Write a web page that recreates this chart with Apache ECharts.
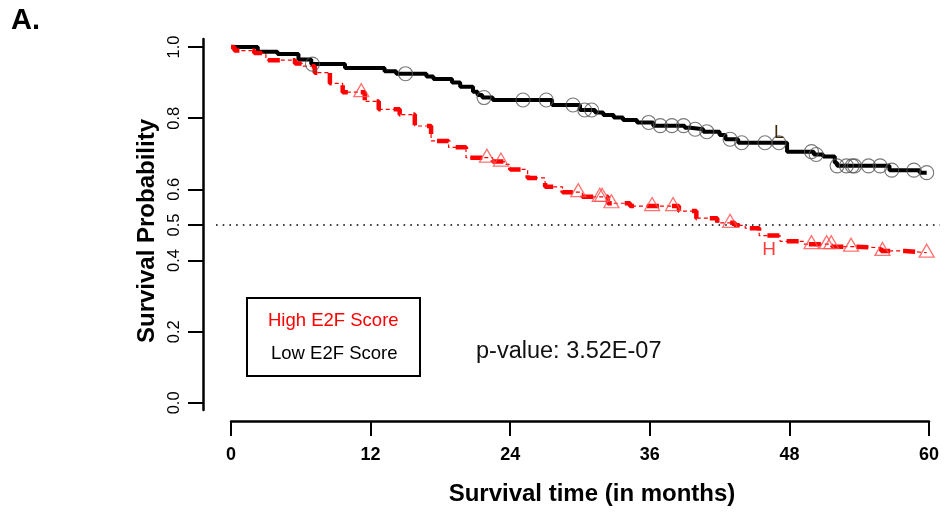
<!DOCTYPE html>
<html>
<head>
<meta charset="utf-8">
<script src="https://cdn.jsdelivr.net/npm/echarts@6/dist/echarts.min.js"></script>
<style>
  html, body { margin: 0; padding: 0; background: #fff; }
  #chart { width: 948px; height: 512px; }
</style>
</head>
<body>
<div id="chart"></div>
<script>
// Kaplan–Meier estimates: month of each drop and the survival after it
const lowTimes = [0, 2.3, 4.0, 5.8, 6.9, 9.8, 13.2, 14.2, 16.8, 17.4, 19.0, 19.7, 20.8, 21.2, 21.6, 22.5, 27.6, 30.0, 31.3, 32.0, 32.9, 33.7, 34.9, 36.3, 39.0, 39.5, 40.6, 42.0, 42.5, 43.6, 47.8, 50.1, 50.9, 51.9, 52.1, 56.6, 59.2];
const lowSurv  = [1.0, 0.987, 0.980, 0.965, 0.952, 0.941, 0.932, 0.925, 0.917, 0.910, 0.900, 0.888, 0.874, 0.865, 0.858, 0.851, 0.837, 0.823, 0.816, 0.809, 0.802, 0.795, 0.788, 0.779, 0.773, 0.769, 0.762, 0.753, 0.741, 0.731, 0.706, 0.698, 0.692, 0.675, 0.666, 0.654, 0.647];
const lowCensored = [7.0, 15.0, 21.75, 25.1, 27.1, 29.4, 30.4, 31.0, 35.9, 36.9, 37.9, 38.9, 39.9, 40.9, 42.9, 43.9, 45.9, 47.1, 49.9, 50.3, 52.1, 52.9, 53.4, 53.6, 54.8, 55.8, 56.8, 58.7, 59.8];

const highTimes = [0, 0.3, 2.0, 3.0, 5.5, 6.2, 7.2, 8.5, 9.6, 11.5, 12.7, 14.5, 15.8, 17.2, 18.7, 20.2, 22.5, 23.5, 24.0, 25.5, 27.0, 28.5, 30.2, 32.4, 34.3, 38.5, 40.0, 41.8, 43.3, 44.2, 45.4, 47.2, 49.2, 51.7, 53.6, 55.9, 57.9];
const highSurv  = [1.0, 0.990, 0.983, 0.963, 0.954, 0.946, 0.928, 0.898, 0.873, 0.847, 0.825, 0.810, 0.778, 0.736, 0.718, 0.689, 0.678, 0.670, 0.656, 0.632, 0.607, 0.592, 0.579, 0.561, 0.553, 0.539, 0.519, 0.506, 0.499, 0.491, 0.470, 0.454, 0.446, 0.439, 0.436, 0.427, 0.422];
const highCensored = [11.2, 22.0, 23.2, 29.85, 31.7, 31.9, 32.7, 36.2, 38.0, 42.9, 49.9, 51.2, 51.6, 53.3, 56.0, 59.8];

const xTicks = [0, 12, 24, 36, 48, 60];
const yTicks = [0.0, 0.2, 0.4, 0.5, 0.6, 0.8, 1.0];
const medianLine = 0.5;
const pValueText = 'p-value: 3.52E-07';

const FONT = '"Liberation Sans", Arial, Helvetica, sans-serif';

// survival value in effect at month t
function survivalAt(times, surv, t) {
  let v = surv[0];
  for (let i = 0; i < times.length; i++) {
    if (times[i] <= t) v = surv[i];
  }
  return v;
}

// step points, extended to the last follow-up time
function stepPoints(times, surv, censored) {
  const pts = times.map((t, i) => [t, surv[i]]);
  const end = Math.max(times[times.length - 1], ...censored);
  pts.push([end, surv[surv.length - 1]]);
  return pts;
}

function censorPoints(times, surv, censored) {
  return censored.map(t => [t, survivalAt(times, surv, t)]);
}

const lowLine = stepPoints(lowTimes, lowSurv, lowCensored);
const highLine = stepPoints(highTimes, highSurv, highCensored);
const lowMarks = censorPoints(lowTimes, lowSurv, lowCensored);
const highMarks = censorPoints(highTimes, highSurv, highCensored);

const chart = echarts.init(document.getElementById('chart'), null, { renderer: 'canvas' });

const yMin = -0.02, yMax = 1.0225;

chart.setOption({
  animation: false,
  backgroundColor: '#fff',
  grid: [
    { left: 231, right: 19, top: 39, bottom: 102 },
    { left: 216, right: 8, top: 39, bottom: 102 }
  ],
  xAxis: [
    {
      gridIndex: 0,
      type: 'value',
      min: 0, max: 60, interval: 12,
      offset: 11,
      axisLine: { show: true, onZero: false, lineStyle: { color: '#000', width: 2.5 } },
      axisTick: { show: true, length: 15, lineStyle: { color: '#000', width: 2 } },
      axisLabel: {
        margin: 25, color: '#000', fontFamily: FONT, fontSize: 18, fontWeight: 'bold',
        customValues: xTicks, formatter: v => String(v)
      },
      splitLine: { show: false }
    },
    { gridIndex: 1, type: 'value', min: 0, max: 1, show: false }
  ],
  yAxis: [
    {
      gridIndex: 0,
      type: 'value',
      min: yMin, max: yMax,
      offset: 28,
      axisLine: { show: true, onZero: false, lineStyle: { color: '#000', width: 2.5 } },
      axisTick: { show: true, length: 15, customValues: yTicks, lineStyle: { color: '#000', width: 2 } },
      axisLabel: {
        rotate: 90, margin: 20, color: '#000', fontFamily: FONT, fontSize: 16.5,
        customValues: yTicks, formatter: v => v.toFixed(1)
      },
      splitLine: { show: false }
    },
    { gridIndex: 1, type: 'value', min: yMin, max: yMax, show: false }
  ],
  series: [
    {
      name: 'Low E2F Score',
      type: 'line',
      step: 'end',
      data: lowLine,
      symbol: 'none',
      lineStyle: { color: '#000', width: 4 },
      z: 3,
      markPoint: {
        symbol: 'circle', symbolSize: 0, silent: true,
        label: { show: true, position: 'inside', formatter: 'L', color: '#3d2a08', fontFamily: FONT, fontSize: 18 },
        data: [{ coord: [47.1, 0.758] }]
      }
    },
    {
      name: 'Low censored',
      type: 'scatter',
      data: lowMarks,
      symbol: 'circle',
      symbolSize: 14,
      itemStyle: { color: 'rgba(0,0,0,0)', borderColor: '#555', borderWidth: 1.1 },
      z: 4
    },
    {
      name: 'High E2F Score',
      type: 'line',
      step: 'end',
      data: highLine,
      symbol: 'none',
      lineStyle: { color: '#ff0000', width: 1.2, type: [4, 3] },
      z: 3
    },
    {
      name: 'High E2F Score (bold dashes)',
      type: 'line',
      step: 'end',
      data: highLine,
      symbol: 'none',
      lineStyle: { color: '#ff0000', width: 4.5, type: [12, 13] },
      z: 3,
      markPoint: {
        symbol: 'circle', symbolSize: 0, silent: true,
        label: { show: true, position: 'inside', formatter: 'H', color: '#ff3b3b', fontFamily: FONT, fontSize: 19 },
        data: [{ coord: [46.25, 0.429] }]
      }
    },
    {
      name: 'High censored',
      type: 'scatter',
      data: highMarks,
      symbol: 'triangle',
      symbolSize: [15, 13],
      symbolOffset: [0, -2],
      itemStyle: { color: 'rgba(0,0,0,0)', borderColor: '#ff5050', borderWidth: 1.3 },
      z: 4
    },
    {
      name: 'Median',
      type: 'line',
      xAxisIndex: 1,
      yAxisIndex: 1,
      data: [[0, medianLine], [1, medianLine]],
      symbol: 'none',
      lineStyle: { color: '#000', width: 1.6, type: [1.6, 5.1] },
      z: 1
    }
  ],
  graphic: [
    {
      type: 'text', left: 11, top: 6,
      style: { text: 'A.', font: 'bold 29px ' + FONT, fill: '#000' }
    },
    {
      type: 'text', x: 147, y: 231, rotation: Math.PI / 2,
      style: { text: 'Survival Probability', font: 'bold 24px ' + FONT, fill: '#000', align: 'center', verticalAlign: 'middle' }
    },
    {
      type: 'text', x: 592, y: 494,
      style: { text: 'Survival time (in months)', font: 'bold 24px ' + FONT, fill: '#000', align: 'center', verticalAlign: 'middle' }
    },
    {
      type: 'rect',
      shape: { x: 247, y: 298, width: 173, height: 78 },
      style: { fill: '#fff', stroke: '#000', lineWidth: 2 }
    },
    {
      type: 'text', x: 268, y: 321,
      style: { text: 'High E2F Score', font: '18.5px ' + FONT, fill: '#ff0000', align: 'left', verticalAlign: 'middle' }
    },
    {
      type: 'text', x: 271, y: 354,
      style: { text: 'Low E2F Score', font: '18.5px ' + FONT, fill: '#000', align: 'left', verticalAlign: 'middle' }
    },
    {
      type: 'text', x: 476, y: 352,
      style: { text: pValueText, font: '23.5px ' + FONT, fill: '#111', align: 'left', verticalAlign: 'middle' }
    }
  ]
});
</script>
</body>
</html>
